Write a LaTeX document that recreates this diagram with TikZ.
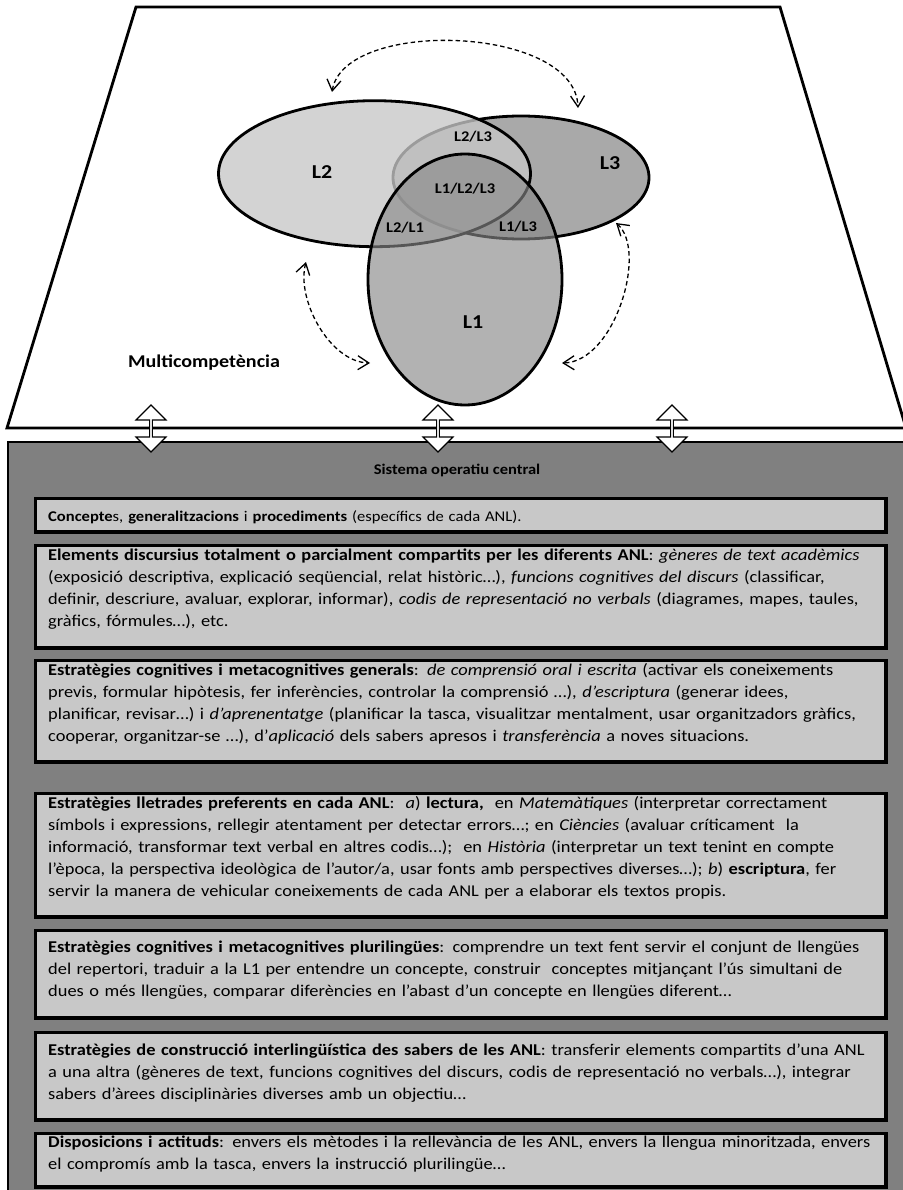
\documentclass[tikz,border=0pt]{standalone}
\usepackage{fontspec}
\setmainfont[FakeStretch=1.115]{Carlito}
\usetikzlibrary{shapes.geometric,shapes.arrows,arrows.meta}

\definecolor{panelgray}{gray}{0.5}
\definecolor{boxgray}{HTML}{C8C8C8}
\definecolor{lthree}{HTML}{A9A9A9}
\definecolor{ltwo}{HTML}{C7C7C7}
\definecolor{lone}{HTML}{888888}

\begin{document}
\begin{tikzpicture}[x=1pt,y=-1pt,
  venn/.style={ellipse, draw=black, line width=2.8pt, inner sep=0pt},
  swap/.style={double arrow, draw=black, fill=white, line width=1.2pt,
    rotate=90, minimum height=47pt, minimum width=30pt,
    double arrow head extend=6pt, inner sep=0pt},
  dasharc/.style={dash pattern=on 4.5pt off 3pt, line width=1.3pt,
    {Straight Barb[length=11pt,width=14pt]}-{Straight Barb[length=11pt,width=14pt]}},
  bigname/.style={font=\bfseries\fontsize{19.7}{22}\selectfont},
  zone/.style={font=\bfseries\fontsize{14.8}{17}\selectfont},
  frame/.style={draw=black, line width=3.3pt, fill=boxgray, anchor=north west,
    minimum width=850.8pt, inner sep=0pt},
  body/.style={anchor=north west, inner sep=0pt, align=left, text width=860pt,
    font=\fontsize{16.5}{22}\selectfont},
]
\useasboundingbox (0,0) rectangle (902,1190);

% upper plane: multicompetence
\draw[line width=2.8pt, fill=white, line join=miter]
  (136,7) -- (780,7) -- (906,428) -- (7,428) -- cycle;

% central operating system panel
\draw[line width=2.8pt, fill=panelgray] (8,442) rectangle (912,1205);

% links between the two levels
\node[swap] (up1) at (151,428.5) {};
\node[swap] (up2) at (438,428.5) {};
\node[swap] (up3) at (672,428.5) {};

% the three languages
\node[venn, fill=lthree, minimum width=256pt, minimum height=123pt] (L3) at (521,177.5) {};
\node[venn, fill=ltwo, fill opacity=0.78, minimum width=312pt, minimum height=146pt] (L2) at (374.5,173.7) {};
\node[venn, fill=lone, fill opacity=0.64, minimum width=194pt, minimum height=251pt] (L1) at (465,279.5) {};

\node[bigname] (nL2) at (322,172) {L2};
\node[bigname] (nL3) at (610,163) {L3};
\node[bigname] (nL1) at (473,322) {L1};
\node[zone] (z23) at (473,137) {L2/L3};
\node[zone] (z123) at (465,189) {L1/L2/L3};
\node[zone] (z21) at (405,228) {L2/L1};
\node[zone] (z13) at (518,227) {L1/L3};

\node[font=\bfseries\fontsize{18}{20}\selectfont] (multi) at (204,363) {Multicompetència};

% exchanges between languages
\coordinate (t2) at (332,92);
\coordinate (t3) at (578,108);
\coordinate (s2) at (306,262);
\coordinate (s1) at (370,363);
\coordinate (r3) at (616,223);
\coordinate (r1) at (562,363);
\draw[dasharc] (t2) .. controls (344,18) and (575,25) .. (t3);
\draw[dasharc] (s2) .. controls (296,300) and (330,362) .. (s1);
\draw[dasharc] (r3) .. controls (648,250) and (615,362) .. (r1);

% panel title
\node[font=\bfseries\fontsize{14.8}{18}\selectfont] (title) at (457,470) {Sistema operatiu central};

% content boxes
\node[frame, minimum height=33.7pt] (b1) at (33.6,496.6) {};
\node[body, font=\fontsize{14.85}{20}\selectfont] (t1) at (48,504.5) {\rule{0pt}{17pt}\textbf{Concepte}s, \textbf{generalitzacions} i \textbf{procediments} (específics de cada ANL).};

\node[frame, minimum height=102.7pt] (b2) at (33.6,543.6) {};
\node[body] (tb2) at (48,542.5) {\rule{0pt}{18pt}\textbf{Elements discursius totalment o parcialment compartits per les diferents ANL}: \textit{gèneres de text acadèmics}\\
(exposició descriptiva, explicació seqüencial, relat històric…), \textit{funcions cognitives del discurs} (classificar,\\
definir, descriure, avaluar, explorar, informar), \textit{codis de representació no verbals} (diagrames, mapes, taules,\\
gràfics, fórmules…), etc.};

\node[frame, minimum height=101.7pt] (b3) at (33.6,658.6) {};
\node[body] (tb3) at (48,657.5) {\rule{0pt}{18pt}\textbf{Estratègies cognitives i metacognitives generals}: \textit{de comprensió oral i escrita} (activar els coneixements\\
previs, formular hipòtesis, fer inferències, controlar la comprensió …), \textit{d’escriptura} (generar idees,\\
planificar, revisar…) i \textit{d’aprenentatge} (planificar la tasca, visualitzar mentalment, usar organitzadors gràfics,\\
cooperar, organitzar-se …), d’\textit{aplicació} dels sabers apresos i \textit{transferència} a noves situacions.};

\node[frame, minimum height=123.7pt] (b4) at (33.6,791.6) {};
\node[body] (tb4) at (48,790.5) {\rule{0pt}{18pt}\textbf{Estratègies lletrades preferents en cada ANL}:\ \ \textit{a}) \textbf{lectura,}\ \ en \textit{Matemàtiques} (interpretar correctament\\
símbols i expressions, rellegir atentament per detectar errors…; en \textit{Ciències} (avaluar críticament\ \ la\\
informació, transformar text verbal en altres codis…);\ \ en \textit{Història} (interpretar un text tenint en compte\\
l’època, la perspectiva ideològica de l’autor/a, usar fonts amb perspectives diverses…); \textit{b}) \textbf{escriptura}, fer\\
servir la manera de vehicular coneixements de cada ANL per a elaborar els textos propis.};

\node[frame, minimum height=87.7pt] (b5) at (33.6,928.6) {};
\node[body] (tb5) at (48,934.5) {\rule{0pt}{18pt}\textbf{Estratègies cognitives i metacognitives plurilingües}: comprendre un text fent servir el conjunt de llengües\\
del repertori, traduir a la L1 per entendre un concepte, construir\ \ conceptes mitjançant l’ús simultani de\\
dues o més llengües, comparar diferències en l’abast d’un concepte en llengües diferent…};

\node[frame, minimum height=87.7pt] (b6) at (33.6,1030.6) {};
\node[body] (tb6) at (48,1037.5) {\rule{0pt}{18pt}\textbf{Estratègies de construcció interlingüística des sabers de les ANL}: transferir elements compartits d’una ANL\\
a una altra (gèneres de text, funcions cognitives del discurs, codis de representació no verbals…), integrar\\
sabers d’àrees disciplinàries diverses amb un objectiu…};

\node[frame, minimum height=53.7pt] (b7) at (33.6,1131.6) {};
\node[body] (tb7) at (48,1129.5) {\rule{0pt}{18pt}\textbf{Disposicions i actituds}: envers els mètodes i la rellevància de les ANL, envers la llengua minoritzada, envers\\
el compromís amb la tasca, envers la instrucció plurilingüe…};
\end{tikzpicture}
\end{document}
